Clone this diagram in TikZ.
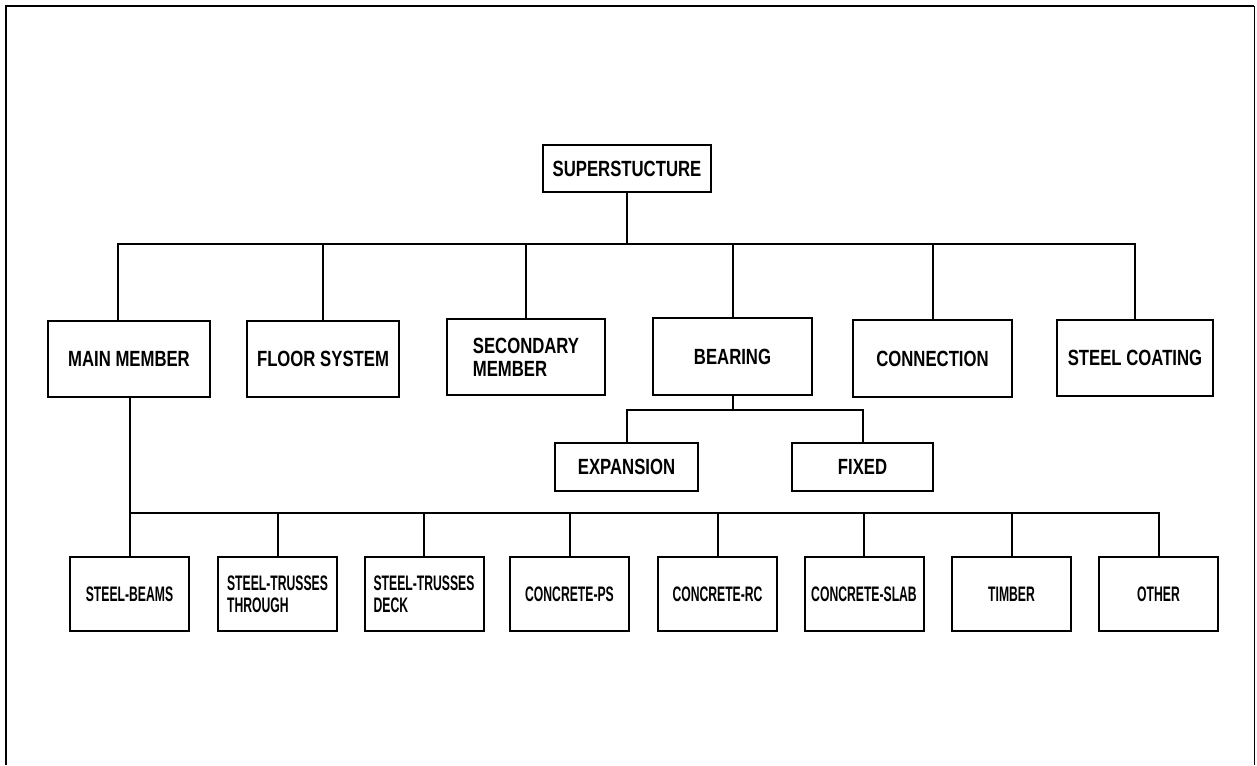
\documentclass[tikz,border=0pt]{standalone}
\usepackage{fontspec}
\newfontfamily\midfont[FakeStretch=0.76]{Liberation Sans Bold}
\newfontfamily\lowfont[FakeStretch=0.58]{Liberation Sans Bold}
\begin{document}
\begin{tikzpicture}[x=1pt,y=-1pt,
  box/.style={draw, line width=2pt, rectangle, inner sep=0pt, align=left},
  midbox/.style={box, font=\midfont\fontsize{22}{23}\selectfont},
  lowbox/.style={box, font=\lowfont\fontsize{21}{22}\selectfont, minimum width=119pt, minimum height=74pt},
  link/.style={line width=2pt},
  frame/.style={line width=2.8pt}]
\useasboundingbox (0,0) rectangle (1257,765);
% frame
\draw[frame] (6,765) -- (6,6) -- (1254,6);
\draw[line width=0.8pt] (1254,6) -- (1254,765);
% root
\node[midbox, minimum width=168pt, minimum height=47pt] (sup) at (627,168.5) {SUPERSTUCTURE};
% middle row
\node[midbox, minimum width=162pt, minimum height=76pt] (mm) at (129,359) {MAIN MEMBER};
\node[midbox, minimum width=152pt, minimum height=76pt] (fs) at (323,359) {FLOOR SYSTEM};
\node[midbox, minimum width=158pt, minimum height=76pt] (sm) at (526,357) {SECONDARY\\MEMBER};
\node[midbox, minimum width=159pt, minimum height=77pt] (br) at (732.5,356.5) {BEARING};
\node[midbox, minimum width=159pt, minimum height=77pt] (cn) at (932.5,358.5) {CONNECTION};
\node[midbox, minimum width=156pt, minimum height=76pt] (sc) at (1135,358) {STEEL COATING};
% bearing children
\node[midbox, minimum width=143pt, minimum height=48pt] (ex) at (626.5,467) {EXPANSION};
\node[midbox, minimum width=141pt, minimum height=48pt] (fx) at (862.5,467) {FIXED};
% bottom row
\node[lowbox] (b1) at (129.5,594) {STEEL-BEAMS};
\node[lowbox] (b2) at (277.5,594) {STEEL-TRUSSES\\THROUGH};
\node[lowbox] (b3) at (424,594) {STEEL-TRUSSES\\DECK};
\node[lowbox] (b4) at (569.5,594) {CONCRETE-PS};
\node[lowbox] (b5) at (717.5,594) {CONCRETE-RC};
\node[lowbox] (b6) at (864,594) {CONCRETE-SLAB};
\node[lowbox] (b7) at (1011.5,594) {TIMBER};
\node[lowbox] (b8) at (1158.5,594) {OTHER};
% connectors: root to middle row
\coordinate (bus1) at (627,244);
\draw[link] (sup.south) -- (bus1);
\draw[link] (mm.north -| 118,0) |- (bus1) -| (sc.north);
\draw[link] (fs.north) -- (fs.north |- bus1);
\draw[link] (sm.north) -- (sm.north |- bus1);
\draw[link] (br.north) -- (br.north |- bus1);
\draw[link] (cn.north) -- (cn.north |- bus1);
% bearing subtree
\coordinate (bus2) at (732.5,410);
\draw[link] (br.south) -- (bus2);
\draw[link] (ex.north) |- (bus2) -| (fx.north);
% main member to bottom row
\coordinate (bus3) at (130,513);
\draw[link] (mm.south -| bus3) -- (bus3) -| (b8.north);
\draw[link] (b1.north) -- (b1.north |- bus3);
\draw[link] (b2.north) -- (b2.north |- bus3);
\draw[link] (b3.north) -- (b3.north |- bus3);
\draw[link] (b4.north) -- (b4.north |- bus3);
\draw[link] (b5.north) -- (b5.north |- bus3);
\draw[link] (b6.north) -- (b6.north |- bus3);
\draw[link] (b7.north) -- (b7.north |- bus3);
\end{tikzpicture}
\end{document}
